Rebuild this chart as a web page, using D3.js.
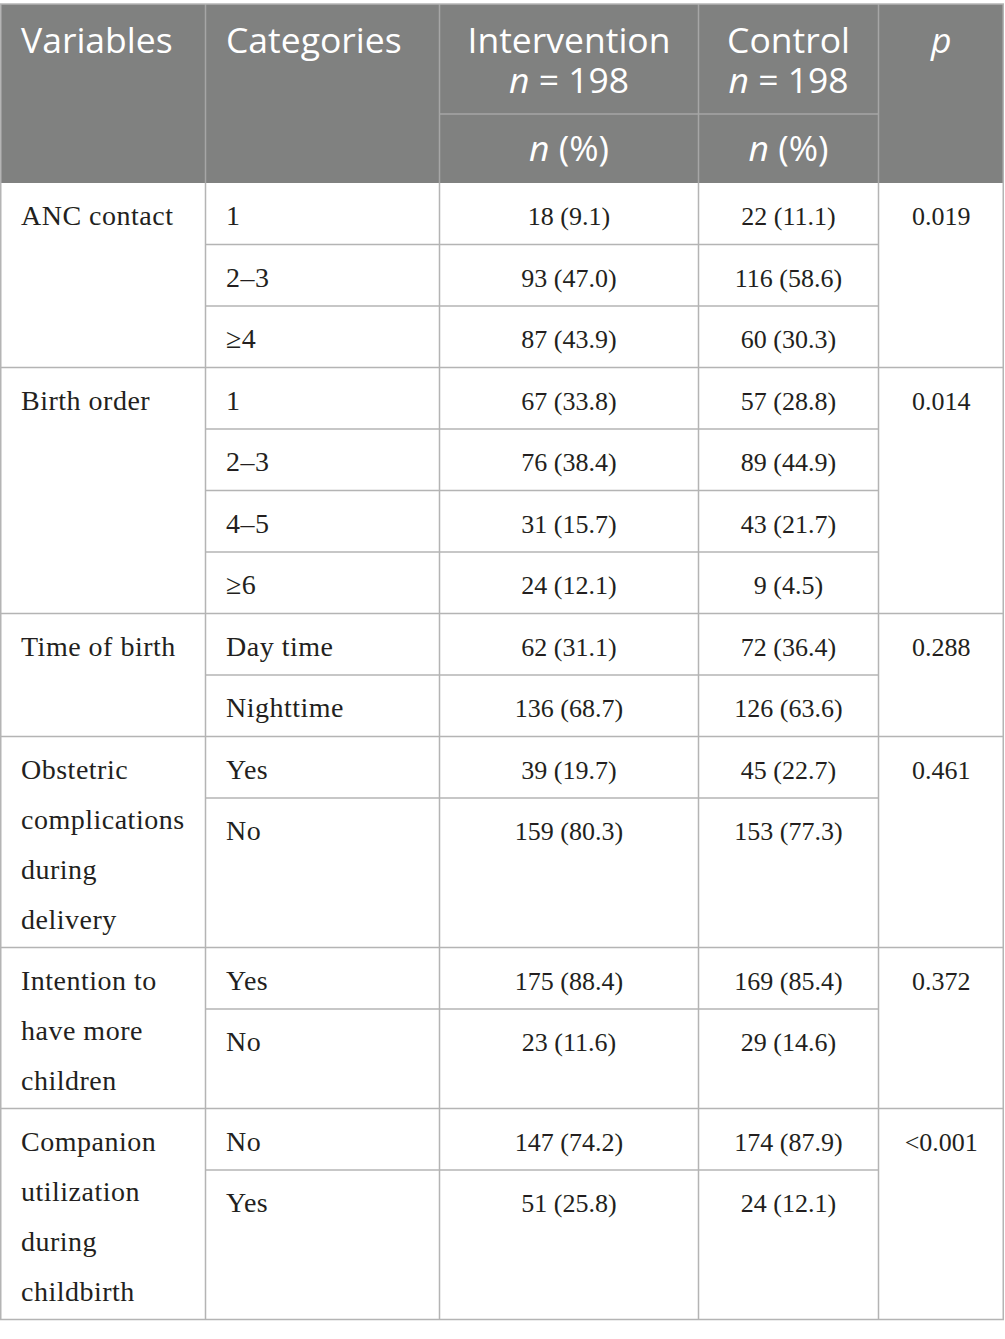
<!DOCTYPE html>
<meta charset="utf-8">
<html>
<head>
  <title>Table</title>
  <style>
    body { margin: 0; background: #fff; }
    svg { display: block; }
    .head { font-family: 'Open Sans', sans-serif; fill: #fff; font-size: 35.5px; }
    .body { font-family: 'Liberation Serif', serif; fill: #231f20; font-size: 26px; }
    .word { font-size: 28px; letter-spacing: 0.5px; }
  </style>
  <script src="https://d3js.org/d3.v7.min.js"></script>
</head>
<body>
  <svg width="1005" height="1339"></svg>
  <script>
    // table content
    var variables = [
      ["ANC contact"],
      ["Birth order"],
      ["Time of birth"],
      ["Obstetric", "complications", "during", "delivery"],
      ["Intention to", "have more", "children"],
      ["Companion", "utilization", "during", "childbirth"]
    ];
    var categories = [
      ["1", "2\u20133", "\u22654"],
      ["1", "2\u20133", "4\u20135", "\u22656"],
      ["Day time", "Nighttime"],
      ["Yes", "No"],
      ["Yes", "No"],
      ["No", "Yes"]
    ];
    var intervention = [
      ["18 (9.1)", "93 (47.0)", "87 (43.9)"],
      ["67 (33.8)", "76 (38.4)", "31 (15.7)", "24 (12.1)"],
      ["62 (31.1)", "136 (68.7)"],
      ["39 (19.7)", "159 (80.3)"],
      ["175 (88.4)", "23 (11.6)"],
      ["147 (74.2)", "51 (25.8)"]
    ];
    var control = [
      ["22 (11.1)", "116 (58.6)", "60 (30.3)"],
      ["57 (28.8)", "89 (44.9)", "43 (21.7)", "9 (4.5)"],
      ["72 (36.4)", "126 (63.6)"],
      ["45 (22.7)", "153 (77.3)"],
      ["169 (85.4)", "29 (14.6)"],
      ["174 (87.9)", "24 (12.1)"]
    ];
    var pValues = ["0.019", "0.014", "0.288", "0.461", "0.372", "<0.001"];

    var svg = d3.select("svg");

    // column edges
    var cols = [0, 205.5, 439.5, 698.5, 878.5, 1004];
    var tableTop = 4, subLine = 114, headBottom = 183;
    var rowH = 61.5, lineH = 50, pad = 11, base = 42;
    var border = "#b4b4b4";

    // work out group and row extents
    var groups = [];
    var y = headBottom;
    variables.forEach(function(v, i) {
      var n = categories[i].length;
      var h = Math.max(n * rowH, v.length * lineH + pad);
      var rows = categories[i].map(function(c, j) {
        var ry = y + j * rowH;
        var rh = j === n - 1 ? h - j * rowH : rowH;
        return { y: ry, h: rh, cat: c, a: intervention[i][j], b: control[i][j] };
      });
      groups.push({ y: y, h: h, lines: v, p: pValues[i], rows: rows });
      y += h;
    });
    var bottom = y;

    // header
    svg.append("rect")
      .attr("x", cols[0]).attr("y", tableTop)
      .attr("width", cols[5] - cols[0]).attr("height", headBottom - tableTop)
      .attr("fill", "#808180");

    var hl = svg.append("g").attr("stroke", "#a6a6a6").attr("stroke-width", 1.5);
    [1, 2, 3, 4].forEach(function(i) {
      hl.append("line").attr("x1", cols[i]).attr("x2", cols[i]).attr("y1", tableTop).attr("y2", headBottom);
    });
    hl.append("line").attr("x1", cols[2]).attr("x2", cols[4]).attr("y1", subLine).attr("y2", subLine);

    var head = svg.append("g").attr("class", "head");
    head.append("text").attr("x", 21).attr("y", 53).text("Variables");
    head.append("text").attr("x", 226).attr("y", 53).text("Categories");
    [[2, "Intervention"], [3, "Control"]].forEach(function(d) {
      var cx = (cols[d[0]] + cols[d[0] + 1]) / 2;
      head.append("text").attr("x", cx).attr("y", 53).attr("text-anchor", "middle").text(d[1]);
      var t = head.append("text").attr("x", cx).attr("y", 93).attr("text-anchor", "middle");
      t.append("tspan").attr("font-style", "italic").text("n");
      t.append("tspan").text(" = 198");
      var t2 = head.append("text").attr("x", cx).attr("y", 161).attr("text-anchor", "middle");
      t2.append("tspan").attr("font-style", "italic").text("n");
      t2.append("tspan").text(" (%)");
    });
    head.append("text").attr("x", (cols[4] + cols[5]) / 2).attr("y", 53)
      .attr("text-anchor", "middle").attr("font-style", "italic").text("p");

    // body grid
    var grid = svg.append("g").attr("stroke", border).attr("stroke-width", 1.5).attr("fill", "none");
    groups.forEach(function(g) {
      grid.append("line").attr("x1", cols[0]).attr("x2", cols[5])
        .attr("y1", g.y + g.h).attr("y2", g.y + g.h);
      g.rows.slice(1).forEach(function(r) {
        grid.append("line").attr("x1", cols[1]).attr("x2", cols[4])
          .attr("y1", r.y).attr("y2", r.y);
      });
    });
    cols.forEach(function(c, k) {
      var x = k === 0 ? c + 0.75 : (k === 5 ? c - 0.75 : c);
      grid.append("line").attr("x1", x).attr("x2", x).attr("y1", headBottom).attr("y2", bottom);
    });
    grid.append("line").attr("x1", cols[0]).attr("x2", cols[5]).attr("y1", tableTop).attr("y2", tableTop);
    grid.append("line").attr("x1", cols[0] + 0.75).attr("x2", cols[0] + 0.75).attr("y1", tableTop).attr("y2", headBottom);
    grid.append("line").attr("x1", cols[5] - 0.75).attr("x2", cols[5] - 0.75).attr("y1", tableTop).attr("y2", headBottom);

    // body text
    var body = svg.append("g").attr("class", "body");
    var grp = body.selectAll(".grp").data(groups).enter().append("g").attr("class", "grp");

    grp.each(function(g) {
      var sel = d3.select(this);
      g.lines.forEach(function(l, k) {
        sel.append("text").attr("class", "word").attr("x", 21).attr("y", g.y + base + k * lineH).text(l);
      });
      sel.append("text").attr("x", (cols[4] + cols[5]) / 2).attr("y", g.y + base)
        .attr("text-anchor", "middle").text(g.p);
      g.rows.forEach(function(r) {
        sel.append("text").attr("class", "word").attr("x", 226).attr("y", r.y + base).text(r.cat);
        sel.append("text").attr("x", (cols[2] + cols[3]) / 2).attr("y", r.y + base)
          .attr("text-anchor", "middle").text(r.a);
        sel.append("text").attr("x", (cols[3] + cols[4]) / 2).attr("y", r.y + base)
          .attr("text-anchor", "middle").text(r.b);
      });
    });
  </script>
</body>
</html>
